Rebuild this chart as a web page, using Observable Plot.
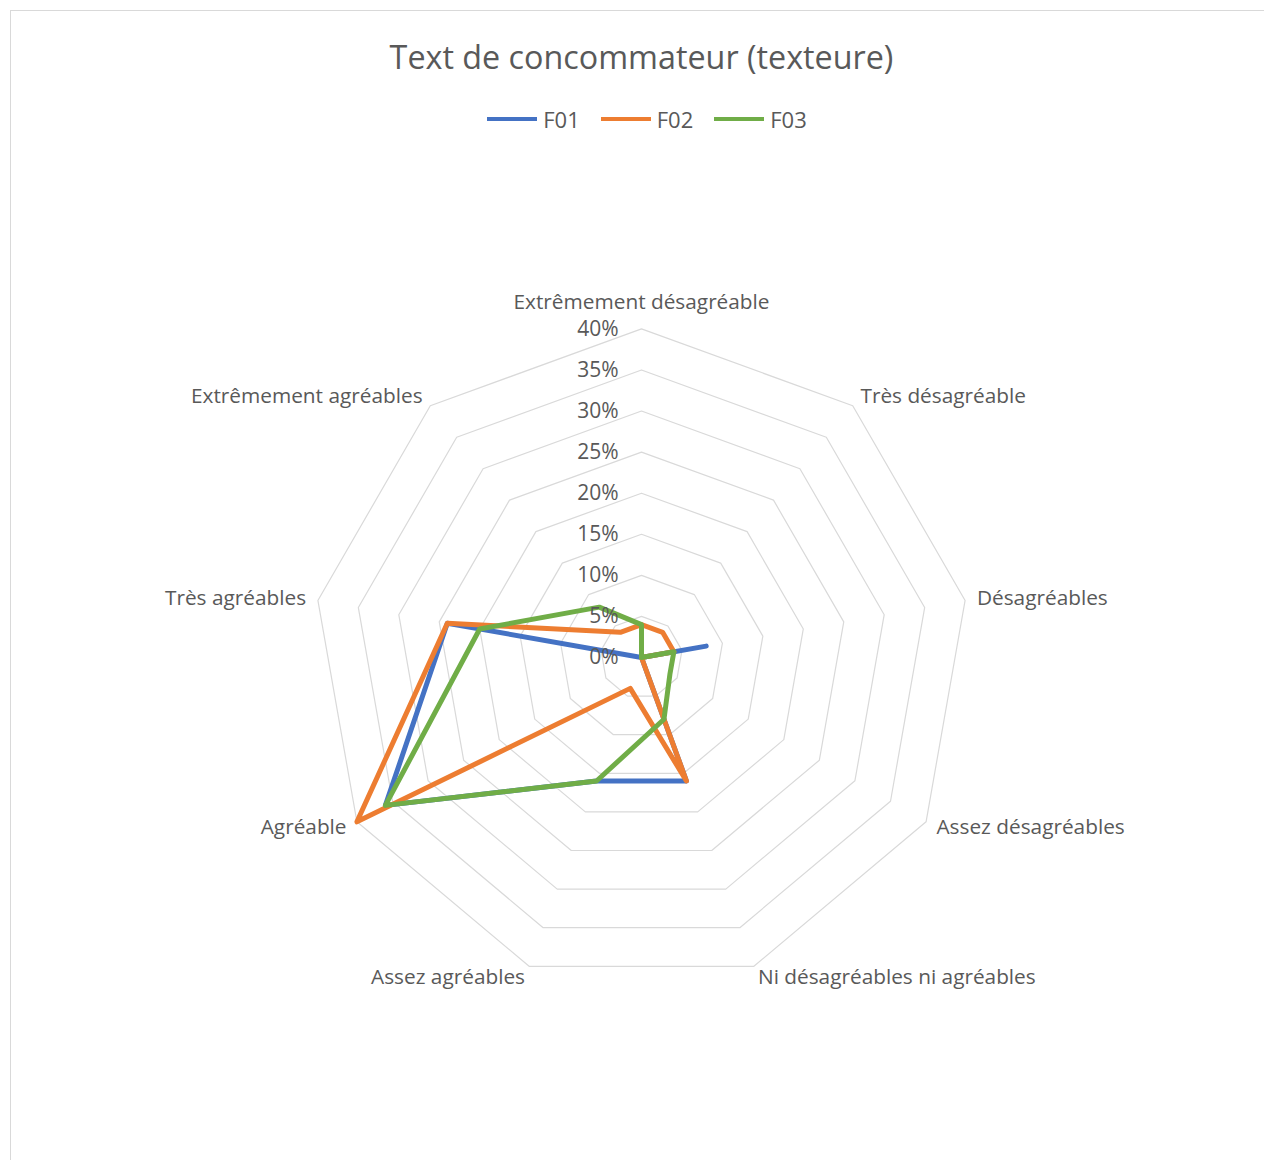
<!DOCTYPE html>
<html>
<head>
<meta charset="utf-8">
<script src="https://cdn.jsdelivr.net/npm/d3@7"></script>
<script src="https://cdn.jsdelivr.net/npm/@observablehq/plot@0.6"></script>
<style>
  html, body { margin: 0; padding: 0; background: #fff; overflow: hidden; width: 1264px; height: 1160px; }
  body { position: relative; font-family: "Open Sans", sans-serif; color: #595959; }
  #frame { position: absolute; left: 10px; top: 10px; width: 1400px; height: 1300px; border-left: 1px solid #d9d9d9; border-top: 1px solid #d9d9d9; }
  #title { position: absolute; left: 0; width: 1283px; top: 35px; text-align: center; font-size: 32.3px; line-height: 42px; color: #595959; }
  #legend { position: absolute; left: 5.5px; width: 1283px; top: 107px; display: flex; justify-content: center; align-items: center; font-size: 22px; line-height: 24px; color: #595959; }
  .item { display: flex; align-items: center; margin: 0 10.5px; }
  .swatch { width: 50px; height: 4px; margin-right: 6px; }
  #chart { position: absolute; left: 0; top: 150px; }
</style>
</head>
<body>
<div id="frame"></div>
<div id="title"></div>
<div id="legend"></div>
<div id="chart"></div>
<script>
const title = "Text de concommateur (texteure)";
const categories = [
  "Extrêmement désagréable",
  "Très désagréable",
  "Désagréables",
  "Assez désagréables",
  "Ni désagréables ni agréables",
  "Assez agréables",
  "Agréable",
  "Très agréables",
  "Extrêmement agréables"
];
const seriesNames = ["F01", "F02", "F03"];
const f01 = [0, 0, 0.08, 0, 0.16, 0.16, 0.36, 0.24, 0];
const f02 = [0.04, 0.04, 0.04, 0, 0.16, 0.04, 0.40, 0.24, 0.04];
const f03 = [0.04, 0, 0.04, 0.04, 0.08, 0.16, 0.36, 0.20, 0.08];
const tickValues = [0, 0.05, 0.10, 0.15, 0.20, 0.25, 0.30, 0.35, 0.40];
const tickLabels = ["0%", "5%", "10%", "15%", "20%", "25%", "30%", "35%", "40%"];
const seriesColors = ["#4472C4", "#ED7D31", "#70AD47"];

const n = categories.length;
const ang = i => i * 2 * Math.PI / n;
const px = (i, v) => v * Math.sin(ang(i));
const py = (i, v) => v * Math.cos(ang(i));

document.getElementById("title").textContent = title;
const legend = document.getElementById("legend");
seriesNames.forEach((s, k) => {
  const it = document.createElement("div");
  it.className = "item";
  const sw = document.createElement("div");
  sw.className = "swatch";
  sw.style.background = seriesColors[k];
  const lb = document.createElement("span");
  lb.textContent = s;
  it.appendChild(sw); it.appendChild(lb);
  legend.appendChild(it);
});

const seriesValues = [f01, f02, f03];
const rows = [];
seriesNames.forEach((s, k) => {
  seriesValues[k].forEach((v, i) => rows.push({series: s, i, v, x: px(i, v), y: py(i, v)}));
});

const maxV = tickValues[tickValues.length - 1];
const rings = [];
tickValues.filter(t => t > 0).forEach(t => {
  categories.forEach((c, i) => rings.push({level: t, x: px(i, t), y: py(i, t)}));
});

const catRows = categories.map((c, i) => {
  const s = Math.sin(ang(i)), co = Math.cos(ang(i));
  const top = Math.abs(s) < 1e-6;
  return {
    label: c, x: px(i, maxV), y: py(i, maxV),
    anchor: top ? "middle" : (s > 0 ? "start" : "end"),
    dx: top ? 0 : 12 * s,
    dy: top ? -27 : -12 * co
  };
});

const W = 1264, H = 1010, cx = 641, cy = 507, R = 328.6;
const FONT = "'Open Sans', sans-serif";

const labelMarks = catRows.map(d =>
  Plot.text([d], {
    x: "x", y: "y", text: "label", textAnchor: d.anchor,
    dx: d.dx, dy: d.dy,
    fill: "#595959", fontSize: 20.8, fontFamily: FONT
  })
);

const chart = Plot.plot({
  width: W, height: H,
  margin: 0,
  x: {domain: [-maxV, maxV], range: [cx - R, cx + R], axis: null},
  y: {domain: [-maxV, maxV], range: [cy + R, cy - R], axis: null},
  color: {domain: seriesNames, range: seriesColors},
  style: {background: "transparent", overflow: "visible"},
  marks: [
    Plot.line(rings, {x: "x", y: "y", z: "level", curve: "linear-closed", stroke: "#d9d9d9", strokeWidth: 1.2}),
    Plot.line(rows, {x: "x", y: "y", z: "series", stroke: "series", curve: "linear-closed", strokeWidth: 5, strokeLinejoin: "round", strokeLinecap: "round"}),
    Plot.text(tickValues.map((t, k) => ({t, label: tickLabels[k]})), {
      x: 0, y: "t", text: "label", textAnchor: "end", dx: -23,
      fill: "#595959", fontSize: 21, fontFamily: FONT
    }),
    ...labelMarks
  ]
});
document.getElementById("chart").appendChild(chart);
</script>
</body>
</html>
